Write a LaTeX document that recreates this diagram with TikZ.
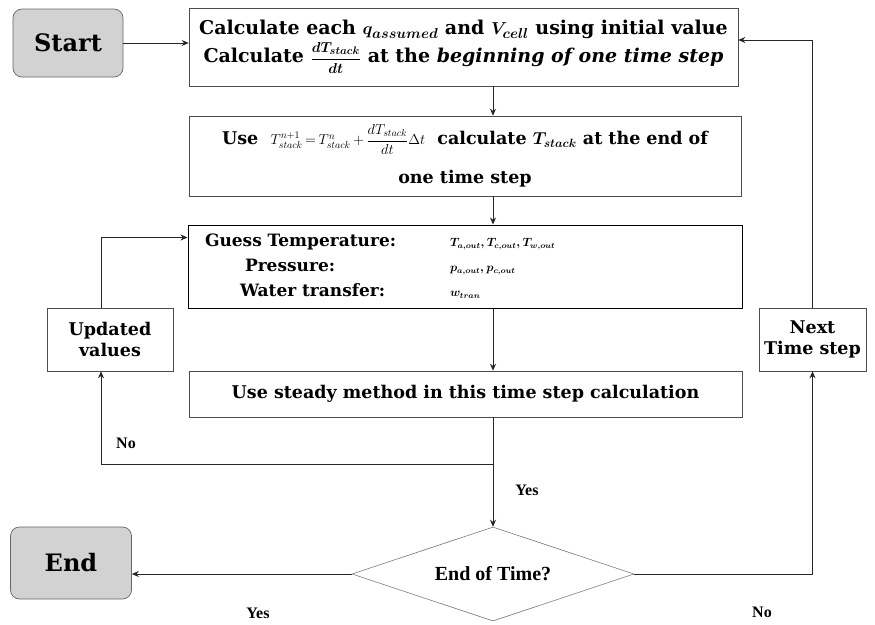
\documentclass[tikz,border=0pt]{standalone}
\usepackage{amsmath}
\usepackage{fontspec}
\setmainfont{DejaVu Serif}
\newfontfamily\timesfont{Liberation Serif}
\usetikzlibrary{shapes, arrows.meta, positioning, calc}

\begin{document}
\begin{tikzpicture}[x=1pt, y=-1pt,
    stepbox/.style={draw=black!70, line width=0.6pt, inner sep=0pt, align=center, font=\bfseries\boldmath\fontsize{17.5}{21}\selectfont},
    termbox/.style={draw=black!60, fill=gray!35, rounded corners=9pt, line width=0.7pt, font=\bfseries\fontsize{24}{26}\selectfont},
    arr/.style={-{Stealth[length=7pt,width=6pt]}, line width=0.8pt, draw=black!85},
    lbl/.style={font=\timesfont\bfseries\fontsize{16}{18}\selectfont}]
    \useasboundingbox (0,0) rectangle (875,624);

    % Start and the first step
    \node[termbox, minimum width=110pt, minimum height=68pt] (start) at (68,43) {Start};
    \node[stepbox, minimum width=549pt, minimum height=78pt, font=\bfseries\boldmath\fontsize{19}{22}\selectfont] (calc) at (463.5,47)
        {Calculate each $q_{assumed}$ and $V_{cell}$ using initial value\\[2pt]
         Calculate {\fontsize{15}{17}\selectfont$\dfrac{dT_{stack}}{dt}$} at the \textit{beginning of one time step}};

    % Stack temperature at the end of the step
    \node[stepbox, minimum width=552pt, minimum height=80pt] (use) at (465,156)
        {Use \ {\unboldmath\fontsize{14}{16}\selectfont$T^{n+1}_{stack}\,{=}\,T^{n}_{stack}\,{+}\,\dfrac{dT_{stack}}{dt}\Delta t$} \ calculate $T_{stack}$ at the end of\\[15pt]
         one time step};

    % Guessed values
    \node[stepbox, draw=black, line width=1pt, minimum width=554pt, minimum height=83pt, text width=520pt, align=left] (guess) at (465,266.5)
        {\fontsize{17}{25}\selectfont
         \begin{tabular}{@{}p{245pt}@{}l@{}}
         Guess Temperature: & {\fontsize{12}{15}\selectfont$T_{a,out}, T_{c,out}, T_{w,out}$}\\
         \hspace*{40pt}Pressure: & {\fontsize{12}{15}\selectfont$p_{a,out}, p_{c,out}$}\\
         \hspace*{35pt}Water transfer: & {\fontsize{12}{15}\selectfont$w_{tran}$}
         \end{tabular}};

    % Steady method
    \node[stepbox, minimum width=553pt, minimum height=46pt] (steady) at (465.5,394)
        {Use steady method in this time step calculation};

    % Loop boxes
    \node[stepbox, minimum width=126pt, minimum height=63pt] (upd) at (110,339.5) {Updated\\values};
    \node[stepbox, minimum width=107pt, minimum height=63pt] (next) at (812.5,339.5) {Next\\Time step};

    % Decision and end
    \node[diamond, aspect=3, draw=black!60, line width=0.5pt, minimum width=282pt, minimum height=94pt, inner sep=0pt,
          font=\timesfont\bfseries\fontsize{20}{22}\selectfont] (diam) at (493,574) {End of Time?};
    \node[termbox, minimum width=121pt, minimum height=72pt] (end) at (71,563) {End};

    % Main flow
    \draw[arr] (start.east) -- (start.east -| calc.west);
    \draw[arr] (calc.south -| diam.north) -- (use.north -| diam.north);
    \draw[arr] (use.south -| diam.north) -- (guess.north -| diam.north);
    \draw[arr] (guess.south -| diam.north) -- (steady.north -| diam.north);
    \draw[arr] (steady.south -| diam.north) -- (diam.north);

    % Iteration loop
    \coordinate (split) at (493,464);
    \draw[arr] (split) -| ([xshift=-9pt]upd.south);
    \draw[arr] ([xshift=-9pt]upd.north) |- ([yshift=29pt]guess.west);

    % Time loop and end
    \draw[arr] (diam.west) -- (end.east |- diam.west);
    \draw[arr] (diam.east) -| (next.south);
    \draw[arr] (next.north) |- ([yshift=7pt]calc.east);

    % Labels
    \node[lbl] (yesdown) at (527,490) {Yes};
    \node[lbl] (noloop) at (126,443) {No};
    \node[lbl] (yesend) at (258,613) {Yes};
    \node[lbl] (nonext) at (762,612) {No};
\end{tikzpicture}
\end{document}
